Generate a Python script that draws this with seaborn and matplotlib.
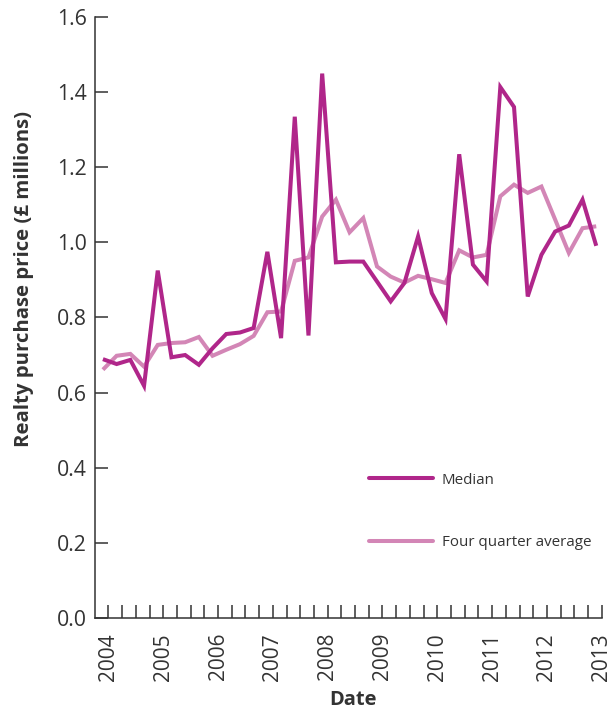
import numpy as np
import pandas as pd
import matplotlib
matplotlib.use("Agg")
import matplotlib.pyplot as plt
import matplotlib.transforms as mtransforms
import seaborn as sns

# ---- data (quarterly) ----
quarter_index = list(range(37))
first_point_year = 2003.9
median = [0.689, 0.676, 0.687, 0.618, 0.925, 0.694, 0.700, 0.674, 0.718, 0.756,
          0.760, 0.772, 0.975, 0.745, 1.335, 0.752, 1.450, 0.947, 0.949, 0.949,
          0.896, 0.843, 0.892, 1.016, 0.865, 0.796, 1.235, 0.941, 0.896, 1.414,
          1.361, 0.856, 0.967, 1.029, 1.045, 1.114, 0.991]
four_quarter = [0.661, 0.698, 0.703, 0.669, 0.727, 0.732, 0.734, 0.748, 0.698, 0.714,
                0.729, 0.751, 0.814, 0.816, 0.951, 0.960, 1.069, 1.114, 1.027, 1.065,
                0.936, 0.909, 0.893, 0.911, 0.902, 0.892, 0.979, 0.960, 0.967, 1.123,
                1.154, 1.132, 1.149, 1.061, 0.972, 1.038, 1.043]
series_names = ["Median", "Four quarter average"]
year_labels = [str(y) for y in range(2004, 2014)]
y_ticks = [0.0, 0.2, 0.4, 0.6, 0.8, 1.0, 1.2, 1.4, 1.6]
y_label = "Realty purchase price (£ millions)"
x_label = "Date"

dark = "#b0268a"
light = "#d386b6"
ink = "#333333"

sns.set_theme(style="ticks")
plt.rcParams["font.family"] = ["Open Sans", "DejaVu Sans"]

dates = [first_point_year + 0.25 * q for q in quarter_index]
df = pd.DataFrame({
    "Date": dates + dates,
    "Value": median + four_quarter,
    "Series": [series_names[0]] * len(median) + [series_names[1]] * len(four_quarter),
})

fig = plt.figure(figsize=(6.12, 7.11), dpi=100)
ax = fig.add_axes([0.1552, 0.1312, 0.8280, 0.8445])

sns.lineplot(data=df, x="Date", y="Value", hue="Series", hue_order=series_names,
             palette=[dark, light], linewidth=2.9, ax=ax, legend=False)
ax.lines[0].set_zorder(3)
ax.lines[1].set_zorder(2)
for ln in ax.lines:
    ln.set_solid_joinstyle("miter")
    ln.set_solid_capstyle("butt")

ax.set_xlim(2003.755, 2013.0)
ax.set_ylim(0, 1.6)

first_year = int(year_labels[0])
n_years = len(year_labels) - 1
qticks = [first_year + 0.25 * k for k in range(n_years * 4 + 1)]
qlabels = [year_labels[k // 4] if k % 4 == 0 else "" for k in range(len(qticks))]
ax.set_xticks(qticks)
ax.set_xticklabels(qlabels, rotation=90, fontsize=15, color=ink)
ax.set_yticks(y_ticks)
ax.set_yticklabels([f"{v:.1f}" for v in y_ticks], fontsize=15.3, color=ink)

shift = mtransforms.ScaledTranslation(-2.2 / 72, 0, fig.dpi_scale_trans)
for lab in ax.get_xticklabels():
    lab.set_transform(lab.get_transform() + shift)

ax.tick_params(axis="both", direction="in", length=9.4, width=1.1, color=ink)
ax.tick_params(axis="x", pad=11)
ax.tick_params(axis="y", pad=6)

sns.despine(ax=ax)
for s in ("left", "bottom"):
    ax.spines[s].set_color(ink)
    ax.spines[s].set_linewidth(1.1)

ax.set_xlabel(x_label, fontsize=14.5, fontweight="bold", color=ink)
ax.set_ylabel(y_label, fontsize=14.7, fontweight="bold", color=ink)
ax.xaxis.set_label_coords(0.509, -0.120)
ax.yaxis.set_label_coords(-0.120, 0.565)

handles = [plt.Line2D([], [], color=dark, linewidth=2.9),
           plt.Line2D([], [], color=light, linewidth=2.9)]
leg = ax.legend(handles, series_names, loc="center left", bbox_to_anchor=(0.5408, 0.177),
                frameon=False, borderpad=0, borderaxespad=0, handlelength=4.2,
                handletextpad=0.62, labelspacing=3.15, fontsize=10.9)
for t in leg.get_texts():
    t.set_color(ink)

fig.savefig("out.png", dpi=100)
